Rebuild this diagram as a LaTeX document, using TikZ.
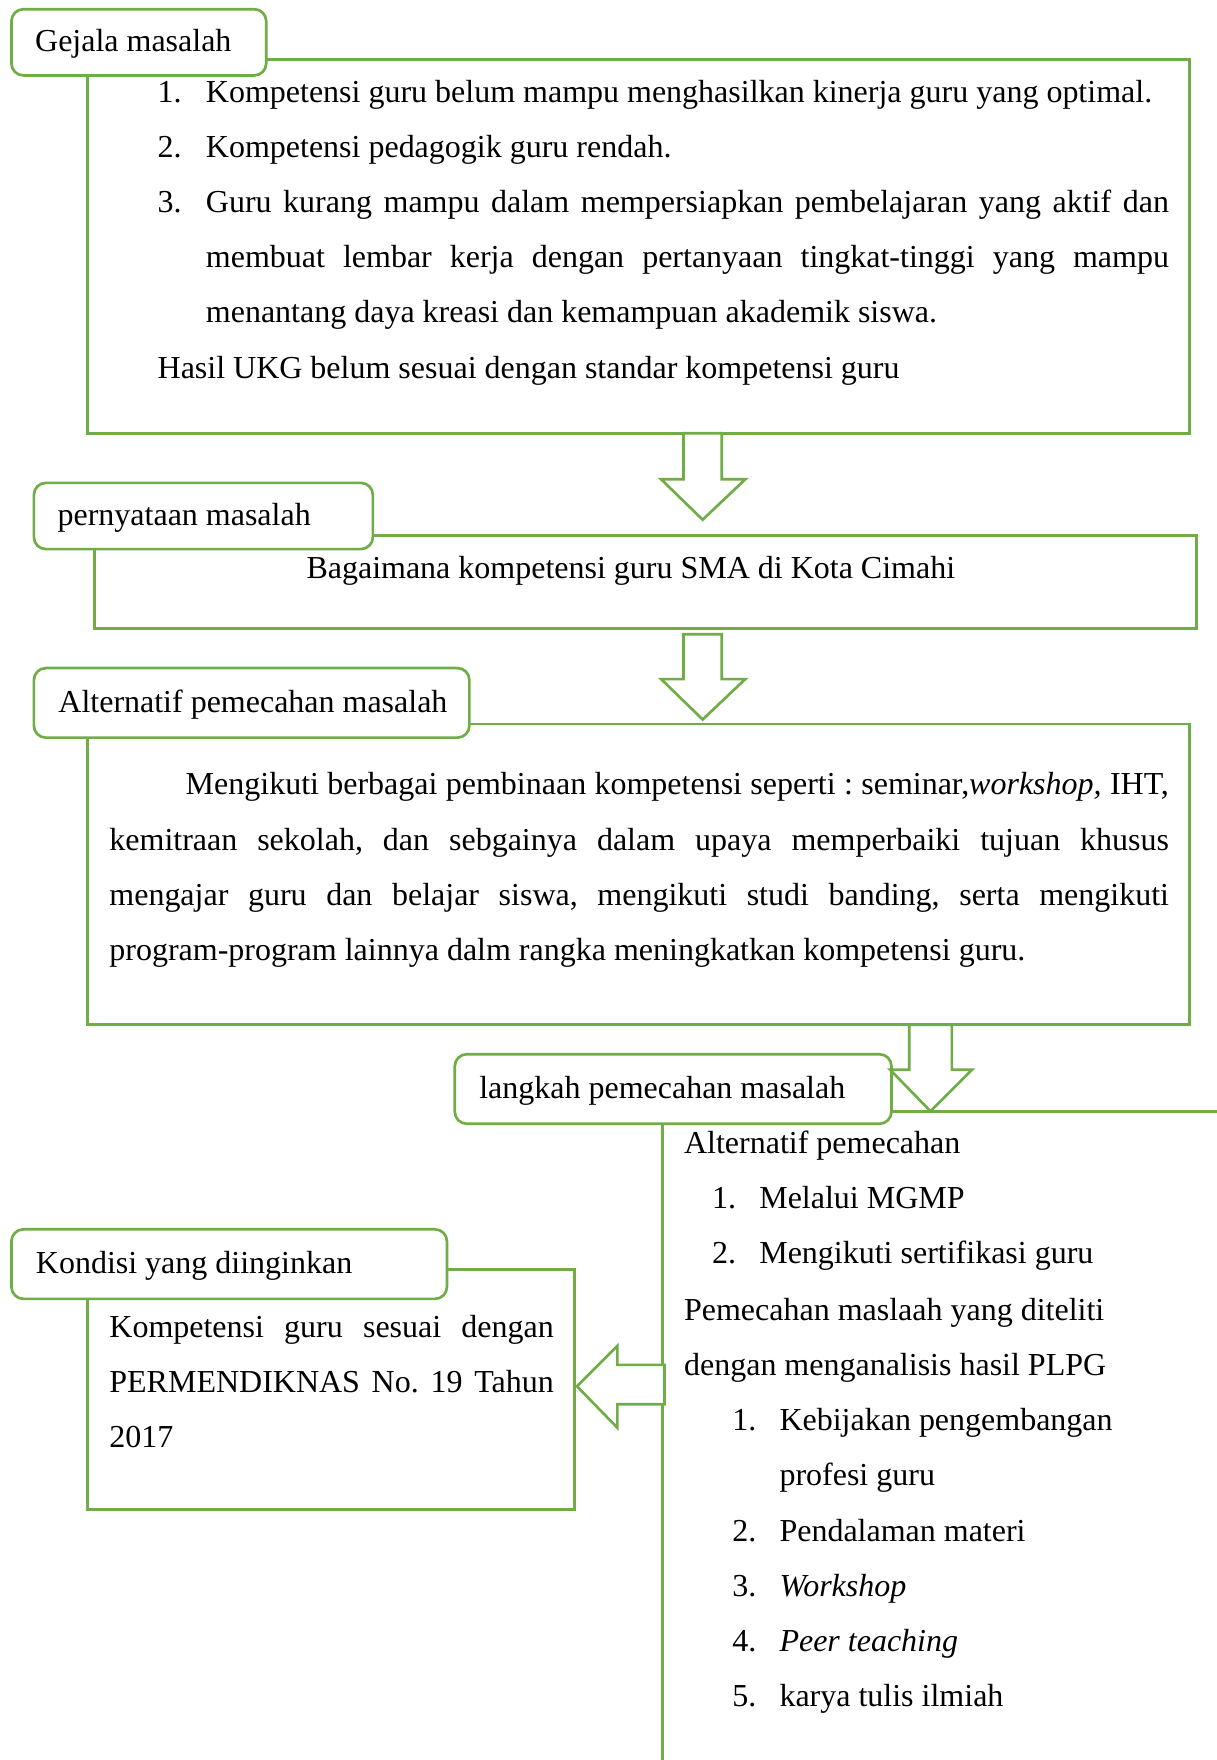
\documentclass[tikz,border=0pt]{standalone}
\usepackage{fontspec}
\setmainfont{Liberation Serif}
\usetikzlibrary{fit}
\definecolor{gc}{RGB}{112,173,71}
\frenchspacing
\tikzset{
  x=0.42103pt, y=-0.42103pt,
  frame/.style={draw=gc, line width=1pt, inner sep=0pt},
  lbl/.style={draw=gc, line width=1pt, rounded corners=4.5pt, fill=white, inner xsep=0pt, inner ysep=0pt,
     anchor=north west, text height=9.6pt, text depth=2.5pt, font=\fontsize{12pt}{14pt}\selectfont\frenchspacing},
  txt/.style={anchor=base west, inner sep=0pt, yshift=-0.84pt, font=\fontsize{12pt}{14pt}\selectfont\frenchspacing},
  blockarrow/.style={draw=gc, line width=1pt, fill=white, line join=miter},
}
\begin{document}
\begin{tikzpicture}
\useasboundingbox (0,0) rectangle (1084,1568);
\fill[white] (0,0) rectangle (1084,1568);

% frames
\node[frame, fit={(78,53)(1060,386)}] (b1) {};
\node[frame, fit={(84,477)(1066,560)}] (b2) {};
\node[frame, fit={(78,645)(1060,913)}] (b3) {};
\node[frame, fit={(78,1131)(512,1345)}] (b4) {};
\draw[draw=gc, line width=1pt] (1100,990) -- (590,990) -- (590,1600);

% labels
\node[lbl, minimum height=24.84pt] (gej) at (9,7) {\makebox[95.57pt][l]{\hspace*{8.9pt}Gejala masalah}};
\node[lbl, minimum height=24.84pt] (per) at (29,429) {\makebox[127.15pt][l]{\hspace*{8.9pt}pernyataan masalah}};
\node[lbl, minimum height=26.1pt] (alt) at (29,594) {\makebox[163.36pt][l]{\hspace*{9.2pt}Alternatif pemecahan masalah}};
\node[lbl, minimum height=26.1pt] (lan) at (404,938) {\makebox[163.78pt][l]{\hspace*{9.2pt}langkah pemecahan masalah}};
\node[lbl, minimum height=26.1pt] (kon) at (9,1094) {\makebox[163.36pt][l]{\hspace*{9.2pt}Kondisi yang diinginkan}};

% block arrows
\draw[blockarrow] (609,386) -- (609,427) -- (589,427) -- (626,463) -- (664,427) -- (643,427) -- (643,386) -- cycle;
\draw[blockarrow] (609,565) -- (609,605) -- (589,605) -- (626,641) -- (664,605) -- (643,605) -- (643,565) -- cycle;
\draw[blockarrow] (810,913) -- (810,953) -- (793,953) -- (829,990) -- (866,953) -- (848,953) -- (848,913) -- cycle;
\draw[blockarrow] (592,1216) -- (550,1216) -- (550,1199) -- (514,1235) -- (550,1272) -- (550,1251) -- (592,1251) -- cycle;

% box 1 text
\node[txt] (n1) at (140,89) {1.};
\node[txt] (l1) at (183,89) {Kompetensi guru belum mampu menghasilkan kinerja guru yang optimal.};
\node[txt] (n2) at (140,138) {2.};
\node[txt] (l2) at (183,138) {Kompetensi pedagogik guru rendah.};
\node[txt] (n3) at (140,187) {3.};
\node[txt] (l3) at (183,187) {\makebox[361.2pt][s]{Guru kurang mampu dalam mempersiapkan pembelajaran yang aktif dan}};
\node[txt] (l4) at (183,236) {\makebox[361.2pt][s]{membuat lembar kerja dengan pertanyaan tingkat-tinggi yang mampu}};
\node[txt] (l5) at (183,285) {menantang daya kreasi dan kemampuan akademik siswa.};
\node[txt] (l6) at (140,335) {Hasil UKG belum sesuai dengan standar kompetensi guru};

% box 2 text
\node[txt, anchor=base] (q1) at (562,513) {Bagaimana kompetensi guru SMA di Kota Cimahi};

% box 3 text
\node[txt] (p1) at (165,706) {\makebox[368.8pt][s]{Mengikuti berbagai pembinaan kompetensi seperti : seminar,\textit{workshop,} IHT,}};
\node[txt] (p2) at (97,756) {\makebox[397.45pt][s]{kemitraan sekolah, dan sebgainya dalam upaya memperbaiki tujuan khusus}};
\node[txt] (p3) at (97,805) {\makebox[397.45pt][s]{mengajar guru dan belajar siswa, mengikuti studi banding, serta mengikuti}};
\node[txt] (p4) at (97,854) {program-program lainnya dalm rangka meningkatkan kompetensi guru.};

% right panel text
\node[txt] (r1) at (609,1026) {Alternatif pemecahan};
\node[txt] (r2n) at (634,1075) {1.};
\node[txt] (r2) at (676,1075) {Melalui MGMP};
\node[txt] (r3n) at (634,1124) {2.};
\node[txt] (r3) at (676,1124) {Mengikuti sertifikasi guru};
\node[txt] (r4) at (609,1174) {Pemecahan maslaah yang diteliti};
\node[txt] (r5) at (609,1223) {dengan menganalisis hasil PLPG};
\node[txt] (r6n) at (652,1272) {1.};
\node[txt] (r6) at (694,1272) {Kebijakan pengembangan};
\node[txt] (r7) at (694,1321) {profesi guru};
\node[txt] (r8n) at (652,1371) {2.};
\node[txt] (r8) at (694,1371) {Pendalaman materi};
\node[txt] (r9n) at (652,1420) {3.};
\node[txt] (r9) at (694,1420) {\textit{Workshop}};
\node[txt] (r10n) at (652,1469) {4.};
\node[txt] (r10) at (694,1469) {\textit{Peer teaching}};
\node[txt] (r11n) at (652,1518) {5.};
\node[txt] (r11) at (694,1518) {karya tulis ilmiah};

% box 4 text
\node[txt] (k1) at (97,1190) {\makebox[166.7pt][s]{Kompetensi guru sesuai dengan}};
\node[txt] (k2) at (97,1239) {\makebox[166.7pt][s]{PERMENDIKNAS No. 19 Tahun}};
\node[txt] (k3) at (97,1288) {2017};
\end{tikzpicture}
\end{document}
